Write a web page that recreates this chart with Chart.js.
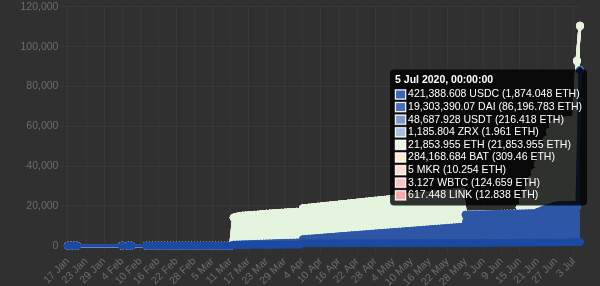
<!DOCTYPE html>
<html><head><meta charset="utf-8">
<script src="https://cdn.jsdelivr.net/npm/chart.js@4.4.1/dist/chart.umd.min.js"></script>
<style>
html,body{margin:0;padding:0;background:#303030;overflow:hidden;width:600px;height:286px;}
#wrap{width:600px;height:293px;margin-top:-2px;position:relative;}
</style></head><body>
<div id="wrap"><canvas id="c"></canvas></div>
<script>
// ---- categories (dates, 2020) ----
const dates = [
 '01-17','01-18','01-19','01-20',
 '02-04','02-06','02-07',
 '02-12','02-13','02-14','02-15','02-16','02-17','02-18','02-19','02-20','02-21','02-22','02-23','02-24','02-25','02-26','02-27','02-28','02-29',
 '03-01','03-02','03-03','03-04','03-05','03-06','03-07','03-08','03-09','03-10','03-11','03-12','03-13','03-14','03-15','03-16','03-17','03-18','03-19','03-20','03-21','03-22','03-23','03-24','03-25','03-26','03-27','03-28','03-29','03-30','03-31',
 '04-01','04-02','04-03','04-04','04-05','04-06','04-07','04-08','04-09','04-10','04-11','04-12','04-13','04-14','04-15','04-16','04-17','04-18','04-19','04-20','04-21','04-22','04-23','04-24','04-25','04-26','04-27','04-28','04-29','04-30',
 '05-01','05-02','05-03','05-04','05-05','05-06','05-07','05-08','05-09','05-10','05-11','05-12','05-13','05-14','05-15','05-16','05-17','05-18','05-19','05-20','05-21','05-22','05-23','05-24','05-25','05-26','05-27','05-28','05-29','05-30','05-31',
 '06-01','06-02','06-03','06-04','06-05','06-06','06-07','06-08','06-09','06-10','06-11','06-12','06-13','06-14','06-15','06-16','06-17','06-18','06-19','06-20','06-21','06-22','06-23','06-24','06-25','06-26','06-27','06-28','06-29','06-30',
 '07-01','07-02','07-03','07-04','07-05'
];
const tokens = ['USDC','DAI','USDT','ZRX','ETH','BAT','MKR','WBTC','LINK'];
// token amounts at the last date (tooltip)
const lastAmounts = [421388.608, 19303390.07, 48687.928, 1185.804, 21853.955, 284168.684, 5, 3.127, 617.448];

// ---- series values (ETH equivalent) ----
const usdc = [
 0,0,0,0,0,0,0,0,0,0, 0,0,0,0,0,0,0,0,0,0, 0,0,0,0,0,0,0,0,0,0, 0,0,0,0,0,0,
 300,310,320,330,340,350,360,370,380,390,400,410,420,430,440,450,460,470,480,490,
 500,510,520,1200,1205,1210,1212,1215,1220,1222,1225,1230,1232,1235,1240,1242,1245,1250,1252,1255,1260,1262,1265,1270,1272,1275,1280,1282,1285,1290,
 1300,1300,1305,1305,1310,1310,1315,1315,1320,1320,1325,1325,1330,1330,1335,1335,1340,1340,1345,1345,1350,1350,1355,1355,1360,1360,1365,1365,1370,1370,1375,
 1380,1390,1400,1410,1420,1430,1440,1450,1460,1470,1480,1490,1500,1510,1520,1530,1540,1550,1560,1570,1580,1590,1600,1610,1620,1630,1640,1650,1660,1670,
 1750,1780,1800,1850,1874.048
];
const dai = [
 0,0,0,0,0,0,0,0,0,0, 0,0,0,0,0,0,0,0,0,0, 0,0,0,0,0,0,0,0,0,0, 0,0,0,0,0,0,
 250,290,330,370,410,450,500,540,580,620,670,710,750,790,830,870,910,950,990,1030,
 1070,1110,1150,2100,2210,2340,2440,2560,2690,2790,2910,3040,3150,3260,3380,3500,3600,3730,3850,3960,4070,4190,4310,4420,4540,4650,4770,4880,5000,5110,
 5200,5310,5430,5540,5660,5770,5880,6000,6110,6230,6340,6460,6570,6690,6800,6910,7030,7140,7260,7370,7490,7600,7720,7830,7950,8060,8180,14230,14280,14330,14380,
 14320,14350,14370,14400,14420,14450,14470,14500,14520,14550,14570,14600,14620,14650,14670,14700,14720,14750,14770,14800,15410,16000,16590,17180,17670,18160,18550,18840,18850,18860,
 18800,18780,18760,17500,86196.783
];
const usdt = [
 0,0,0,0,0,0,0,0,0,0, 0,0,0,0,0,0,0,0,0,0, 0,0,0,0,0,0,0,0,0,0, 0,0,0,0,0,0,
 0,0,0,0,0,0,0,0,0,0, 0,0,0,0,0,0,0,0,0,0,
 0,0,0,0,0,0,0,0,0,0, 0,0,0,0,0,0,0,0,0,0, 0,0,0,0,0,0,0,0,0,0,
 0,0,0,0,0,0,0,0,0,0, 0,0,0,0,0,0,0,0,0,0, 0,0,0,0,0,0,0,0,0,0, 0,
 0,0,0,0,0,0,0,0,0,0, 0,0,0,0,0,0,0,0,0,0, 0,0,0,0,0,0,0,0,0,0,
 0,0,0,210,216.418
];
const zrx = [
 0,0,0,0,0,0,0,0,0,0, 0,0,0,0,0,0,0,0,0,0, 0,0,0,0,0,0,0,0,0,0, 0,0,0,0,0,0,
 0,0,0,0,0,0,0,0,0,0, 0,0,0,0,0,0,0,0,0,0,
 0,0,0,0,0,0,0,0,0,0, 0,0,0,0,0,0,0,0,0,0, 0,0,0,0,0,0,0,0,0,0,
 0,0,0,0,0,0,0,0,0,0, 0,0,0,0,0,0,0,0,0,0, 0,0,0,0,0,0,0,0,0,0, 0,
 0,0,0,0,0,0,0,0,0,0, 0,0,0,0,0,0,0,0,0,0, 0,0,0,0,0,0,0,0,0,0,
 0,0,0,1.9,1.961
];
const eth = [
 0,0,0,0,0,0,0,0,0,0, 0,0,0,0,0,0,0,0,0,0, 0,0,0,0,0,0,0,0,0,0, 0,0,0,0,0,0,
 13600,13940,14230,14420,14460,14500,14540,14630,14670,14760,14850,14950,15000,15050,15100,15150,15200,15250,15300,15350,
 15400,15450,15500,15500,15540,15580,15620,15660,15700,15740,15780,15820,15860,15900,15940,15980,16020,16060,16100,16140,16180,16220,16260,16300,16340,16380,16420,16460,16500,16540,
 16580,16620,16660,16700,16740,16780,16820,16860,16900,16940,16980,17020,17060,17100,17140,17180,17220,17260,17300,17340,17380,17420,17460,17500,17540,17580,17620,0,0,0,0,
 0,0,0,0,0,0,0,0,0,0,0,0,0,0,3000,6500,10000,13500,17000,20500,24000,27500,31000,34500,38000,41000,42000,42000,42200,42300,
 42500,42600,42700,73000,21853.955
];
const bat = [
 0,0,0,0,0,0,0,0,0,0, 0,0,0,0,0,0,0,0,0,0, 0,0,0,0,0,0,0,0,0,0, 0,0,0,0,0,0,
 0,0,0,0,0,0,0,0,0,0, 0,0,0,0,0,0,0,0,0,0,
 0,0,0,0,0,0,0,0,0,0, 0,0,0,0,0,0,0,0,0,0, 0,0,0,0,0,0,0,0,0,0,
 0,0,0,0,0,0,0,0,0,0, 0,0,0,0,0,0,0,0,0,0, 0,0,0,0,0,0,0,0,0,0, 0,
 0,0,0,0,0,0,0,0,0,0, 0,0,0,0,0,0,0,0,0,0, 0,0,0,0,0,0,0,0,0,0,
 0,0,0,300,309.46
];
const mkr = [
 0,0,0,0,0,0,0,0,0,0, 0,0,0,0,0,0,0,0,0,0, 0,0,0,0,0,0,0,0,0,0, 0,0,0,0,0,0,
 0,0,0,0,0,0,0,0,0,0, 0,0,0,0,0,0,0,0,0,0,
 0,0,0,0,0,0,0,0,0,0, 0,0,0,0,0,0,0,0,0,0, 0,0,0,0,0,0,0,0,0,0,
 0,0,0,0,0,0,0,0,0,0, 0,0,0,0,0,0,0,0,0,0, 0,0,0,0,0,0,0,0,0,0, 0,
 0,0,0,0,0,0,0,0,0,0, 0,0,0,0,0,0,0,0,0,0, 0,0,0,0,0,0,0,0,0,0,
 0,0,0,10,10.254
];
const wbtc = [
 0,0,0,0,0,0,0,0,0,0, 0,0,0,0,0,0,0,0,0,0, 0,0,0,0,0,0,0,0,0,0, 0,0,0,0,0,0,
 0,0,0,0,0,0,0,0,0,0, 0,0,0,0,0,0,0,0,0,0,
 0,0,0,0,0,0,0,0,0,0, 0,0,0,0,0,0,0,0,0,0, 0,0,0,0,0,0,0,0,0,0,
 0,0,0,0,0,0,0,0,0,0, 0,0,0,0,0,0,0,0,0,0, 0,0,0,0,0,0,0,0,0,0, 0,
 0,0,0,0,0,0,0,0,0,0, 0,0,0,0,0,0,0,0,0,0, 0,0,0,0,0,0,0,0,0,0,
 0,0,0,120,124.659
];
const link = [
 0,0,0,0,0,0,0,0,0,0, 0,0,0,0,0,0,0,0,0,0, 0,0,0,0,0,0,0,0,0,0, 0,0,0,0,0,0,
 0,0,0,0,0,0,0,0,0,0, 0,0,0,0,0,0,0,0,0,0,
 0,0,0,0,0,0,0,0,0,0, 0,0,0,0,0,0,0,0,0,0, 0,0,0,0,0,0,0,0,0,0,
 0,0,0,0,0,0,0,0,0,0, 0,0,0,0,0,0,0,0,0,0, 0,0,0,0,0,0,0,0,0,0, 0,
 0,0,0,0,0,0,0,0,0,0, 0,0,0,0,0,0,0,0,0,0, 0,0,0,0,0,0,0,0,0,0,
 0,0,0,12.5,12.838
];
const series = [usdc, dai, usdt, zrx, eth, bat, mkr, wbtc, link];
const yTicks = [0, 20000, 40000, 60000, 80000, 100000, 120000];

// ---- styling ----
const lineColors = ['#1c4aa2','#2e56a6','#7d95cc','#a9c1dd','#e4f4df','#fdebd5','#fddcd1','#f8c2bf','#f4a7a7'];
const boxColors  = ['#3b63b4','#4a6cbb','#7f98cc','#a7bfdb','#e7f5e2','#fdebd6','#fddcd2','#f9c3c0','#f5a9a9'];
const MONTHS = ['Jan','Feb','Mar','Apr','May','Jun','Jul','Aug','Sep','Oct','Nov','Dec'];
const T0 = Date.UTC(2020, 0, 17);
const DAY = 86400000;
const dayOf = s => Math.round((Date.UTC(2020, +s.slice(0,2) - 1, +s.slice(3,5)) - T0) / DAY);
const dateOf = d => new Date(T0 + Math.round(d) * DAY);
const xs = dates.map(dayOf);
const fmt = v => v.toLocaleString('en-US', {maximumFractionDigits: 3});
const last = dates.length - 1;
const rates = lastAmounts.map((a, i) => a / series[i][last]);

Chart.defaults.font.family = "'Liberation Sans', Arial, Helvetica, sans-serif";
Chart.defaults.font.size = 10.5;
const tickColor = '#6d6d6d';
const gridColor = 'rgba(255,255,255,0.045)';

const datasets = series.map((vals, i) => ({
  label: tokens[i],
  data: vals.map((v, k) => ({x: xs[k], y: v})),
  borderColor: lineColors[i],
  backgroundColor: lineColors[i],
  pointBackgroundColor: lineColors[i],
  pointBorderColor: lineColors[i],
  borderWidth: 3,
  pointRadius: 3.5,
  pointBorderWidth: 1,
  pointHoverRadius: 3.5,
  tension: 0,
  fill: i === 0 ? 'origin' : '-1',
  clip: false
}));

const chart = new Chart(document.getElementById('c'), {
  type: 'line',
  data: { datasets },
  options: {
    responsive: true,
    maintainAspectRatio: false,
    animation: false,
    devicePixelRatio: 1,
    layout: { padding: { left: 18, right: 20, top: 0, bottom: 0 } },
    interaction: { mode: 'index', intersect: false },
    plugins: {
      legend: { display: false },
      tooltip: {
        mode: 'index', intersect: false,
        backgroundColor: 'rgba(0,0,0,0.8)',
        titleFont: { weight: 'bold', size: 10.5 },
        bodyFont: { size: 10.5 },
        titleColor: '#fff', bodyColor: '#fff',
        titleMarginBottom: 2,
        bodySpacing: 0,
        padding: { left: 5, right: 5, top: 4, bottom: 4 },
        cornerRadius: 4,
        caretSize: 3,
        caretPadding: 2,
        boxWidth: 11, boxHeight: 10,
        callbacks: {
          title: items => {
            const d = dateOf(items[0].parsed.x);
            return d.getUTCDate() + ' ' + MONTHS[d.getUTCMonth()] + ' ' + d.getUTCFullYear() + ', 00:00:00';
          },
          label: item => {
            const i = item.datasetIndex, k = item.dataIndex;
            const e = series[i][k];
            const amt = k === last ? lastAmounts[i] : e * rates[i];
            return fmt(amt) + ' ' + tokens[i] + ' (' + fmt(e) + ' ETH)';
          },
          labelColor: item => ({
            borderColor: 'rgba(255,255,255,0.45)',
            backgroundColor: boxColors[item.datasetIndex],
            borderWidth: 1,
            borderRadius: 0
          })
        }
      }
    },
    scales: {
      x: {
        type: 'linear',
        min: xs[0], max: xs[last],
        ticks: {
          stepSize: 6, includeBounds: false, autoSkip: false,
          maxRotation: 45, minRotation: 45,
          color: tickColor, padding: 2.5,
          callback: v => { const d = dateOf(v); return d.getUTCDate() + ' ' + MONTHS[d.getUTCMonth()]; }
        },
        grid: { color: gridColor, tickLength: 7 },
        border: { display: false }
      },
      y: {
        stacked: true,
        min: yTicks[0], max: yTicks[yTicks.length - 1],
        afterBuildTicks: s => { s.ticks = yTicks.map(v => ({value: v})); },
        ticks: { color: tickColor, padding: 2.5, callback: v => v.toLocaleString('en-US') },
        grid: { color: gridColor, tickLength: 7 },
        border: { display: false }
      }
    }
  }
});

chart.tooltip.setActiveElements(series.map((_, i) => ({datasetIndex: i, index: last})), {x: 0, y: 0});
chart.update();
</script>
</body></html>
